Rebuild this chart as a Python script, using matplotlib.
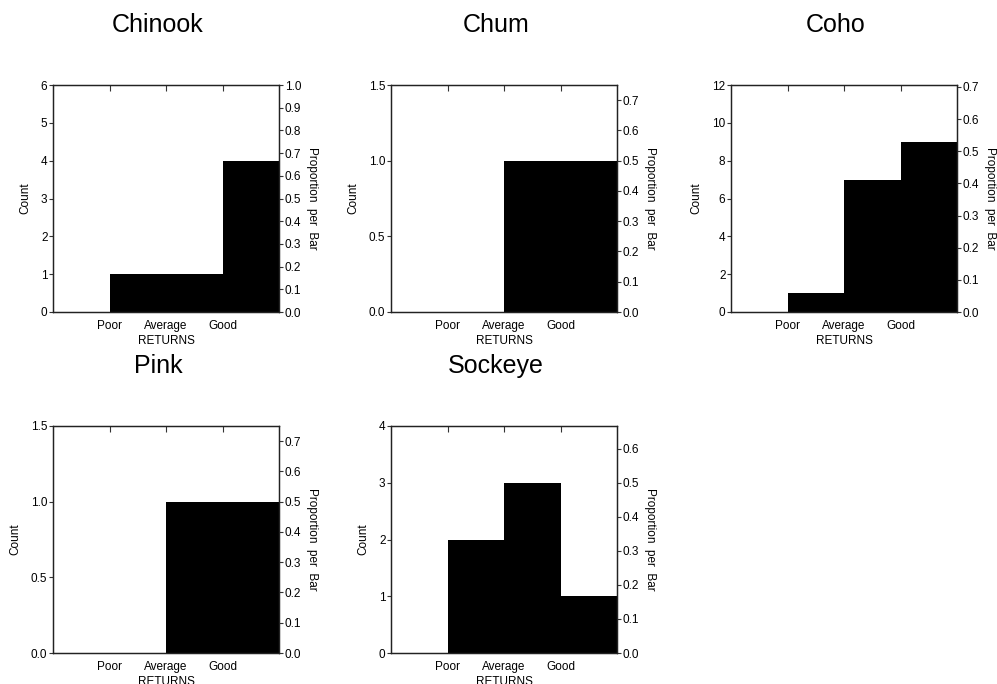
import numpy as np
import matplotlib
matplotlib.use("Agg")
import matplotlib.pyplot as plt
from matplotlib import font_manager

plt.rcParams['font.family'] = ['Liberation Sans', 'DejaVu Sans']

categories = ["Poor", "Average", "Good"]
species = ["Chinook", "Chum", "Coho", "Pink", "Sockeye"]
counts = {
    "Chinook": [1, 1, 4],
    "Chum": [0, 1, 1],
    "Coho": [1, 7, 9],
    "Pink": [0, 1, 1],
    "Sockeye": [2, 3, 1],
}
count_ticks = {
    "Chinook": [0, 1, 2, 3, 4, 5, 6],
    "Chum": [0.0, 0.5, 1.0, 1.5],
    "Coho": [0, 2, 4, 6, 8, 10, 12],
    "Pink": [0.0, 0.5, 1.0, 1.5],
    "Sockeye": [0, 1, 2, 3, 4],
}
tick_fmt = {"Chinook": "%d", "Chum": "%.1f", "Coho": "%d", "Pink": "%.1f", "Sockeye": "%d"}

names = {f.name for f in font_manager.fontManager.ttflist}
if 'Liberation Sans Narrow' in names:
    title_font = ['Liberation Sans Narrow', 'Liberation Sans']
    title_size = 21
else:
    title_font = ['Liberation Sans', 'DejaVu Sans']
    title_size = 18

W, H = 997, 684
fig = plt.figure(figsize=(W / 100, H / 100), dpi=100)

# axes boxes in pixels: left, top
boxes = {
    "Chinook": (53, 85),
    "Chum": (391, 85),
    "Coho": (731, 85),
    "Pink": (53, 426),
    "Sockeye": (391, 426),
}
aw, ah = 226, 227
fs = 8.5

for name in species:
    left, top = boxes[name]
    ax = fig.add_axes([left / W, (H - top - ah) / H, aw / W, ah / H])
    c = counts[name]
    total = sum(c)
    xpos = np.arange(1, len(categories) + 1)
    ax.bar(xpos, c, width=1, align='edge', color='black', linewidth=0)
    ax.set_xlim(0, len(categories) + 1)
    ymax = count_ticks[name][-1]
    ax.set_ylim(0, ymax)
    ax.set_yticks(count_ticks[name])
    ax.set_yticklabels([tick_fmt[name] % v for v in count_ticks[name]])
    ax.set_xticks(xpos)
    ax.set_xticklabels(categories)
    ax.tick_params(axis='x', bottom=False, top=True, direction='in', length=4,
                   labelsize=fs, pad=6, color='#333333')
    ax.tick_params(axis='y', direction='out', length=3, pad=1, labelsize=fs, color='#333333')
    ax.set_xlabel("RETURNS", fontsize=fs, labelpad=2)
    ax.set_ylabel("Count", fontsize=fs, labelpad=7)
    for s in ax.spines.values():
        s.set_linewidth(0.9)
        s.set_color('#222222')

    ax2 = ax.twinx()
    pmax = ymax / total
    ax2.set_ylim(0, pmax)
    pt = np.arange(0, pmax + 1e-9, 0.1)
    ax2.set_yticks(pt)
    ax2.set_yticklabels(["%.1f" % v for v in pt])
    ax2.tick_params(axis='y', direction='out', length=3, pad=1, labelsize=fs, color='#333333')
    ax2.set_ylabel("Proportion  per  Bar", fontsize=fs, rotation=270, labelpad=12)
    for s in ax2.spines.values():
        s.set_linewidth(0.9)
        s.set_color('#222222')

    ax.text(0.465, 1.265, name, transform=ax.transAxes, ha='center', va='center',
            fontsize=title_size, family=title_font)

fig.savefig("out.png", dpi=100)
